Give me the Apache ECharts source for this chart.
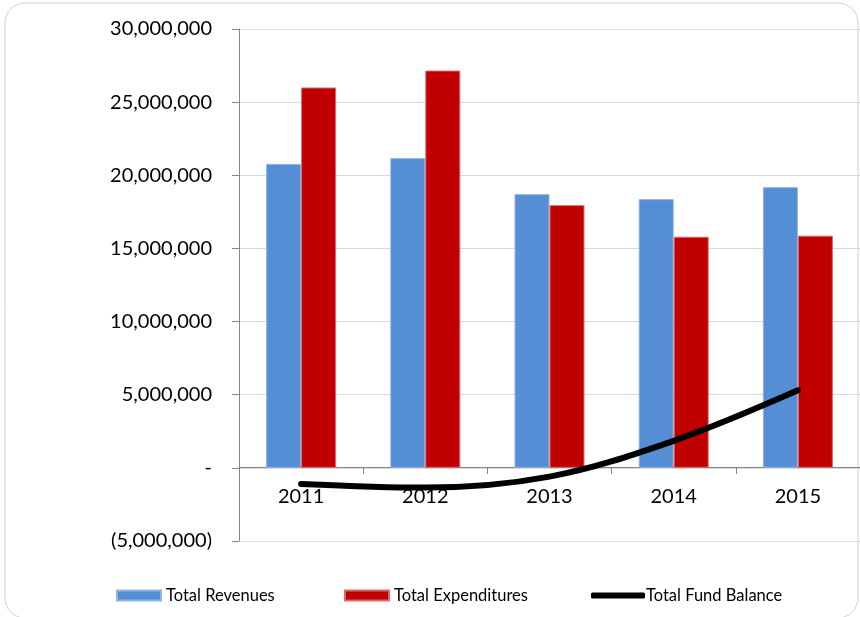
<!DOCTYPE html>
<html>
<head>
<meta charset="utf-8">
<script src="https://cdn.jsdelivr.net/npm/echarts@6/dist/echarts.min.js"></script>
<style>
* { margin: 0; padding: 0; }
html, body { width: 860px; height: 617px; background: #fff; overflow: hidden; }
#chart { width: 860px; height: 617px; }
</style>
</head>
<body>
<div id="chart"></div>
<script>
// data
const years = ["2011", "2012", "2013", "2014", "2015"];
const revenues = [20780000, 21170000, 18710000, 18370000, 19190000];
const expenditures = [26000000, 27160000, 17960000, 15800000, 15870000];
const fundBalance = [-1100000, -1350000, -600000, 1850000, 5300000];

const font = "Lato, 'Open Sans', sans-serif";

function fmtNum(v) {
  if (v === 0) return "-";
  let s = Math.abs(v).toString().replace(/\B(?=(\d{3})+(?!\d))/g, ",");
  return v < 0 ? "(" + s + ")" : s;
}

let chart = echarts.init(document.getElementById("chart"));
let legendText = { fontSize: 16.5, color: "#000", fontFamily: font };
let option = {
  animation: false,
  textStyle: { fontFamily: font },
  graphic: [
    {
      type: "rect",
      shape: { x: 5, y: 3, width: 853, height: 615, r: 20 },
      style: { fill: "none", stroke: "#d0d0d0", lineWidth: 1 },
      silent: true,
      z: -1
    }
  ],
  grid: { left: 239, top: 29, bottom: 76, right: -3 },
  legend: [
    {
      data: ["Total Revenues"],
      left: 116, top: 587, padding: 0,
      icon: "rect", itemWidth: 44, itemHeight: 10, itemGap: 0,
      textStyle: legendText
    },
    {
      data: ["Total Expenditures"],
      left: 344, top: 587, padding: 0,
      icon: "rect", itemWidth: 44, itemHeight: 10, itemGap: 0,
      textStyle: legendText
    },
    {
      data: ["Total Fund Balance"],
      left: 591, top: 587, padding: 0,
      icon: "roundRect", itemWidth: 54, itemHeight: 6, itemGap: 0,
      textStyle: { fontSize: 16.5, color: "#000", fontFamily: font, padding: [0, 0, 0, -4] }
    }
  ],
  xAxis: {
    type: "category",
    data: years,
    offset: -74,
    axisLine: { show: true, onZero: false, lineStyle: { color: "#868686", width: 1 } },
    axisTick: { show: true, length: 7, lineStyle: { color: "#868686" } },
    axisLabel: { fontSize: 20, color: "#000", margin: 20, fontFamily: font },
    splitLine: { show: false }
  },
  yAxis: {
    type: "value",
    min: -5000000,
    max: 30000000,
    interval: 5000000,
    axisLine: { show: true, lineStyle: { color: "#868686", width: 1 } },
    axisTick: { show: true, length: 7, lineStyle: { color: "#868686" } },
    axisLabel: { fontSize: 20, color: "#000", margin: 27, fontFamily: font, formatter: fmtNum },
    splitLine: { show: true, lineStyle: { color: "#d9d9d9", width: 1 } }
  },
  series: [
    {
      name: "Total Revenues",
      type: "bar",
      data: revenues,
      barWidth: 35,
      barGap: "0%",
      itemStyle: { color: "#558ED5", borderColor: "#8fb3e3", borderWidth: 1 }
    },
    {
      name: "Total Expenditures",
      type: "bar",
      data: expenditures,
      barWidth: 35,
      itemStyle: { color: "#C00000", borderColor: "#d96a6a", borderWidth: 1 }
    },
    {
      name: "Total Fund Balance",
      type: "line",
      data: fundBalance,
      smooth: 0.35,
      showSymbol: false,
      symbol: "none",
      lineStyle: { color: "#000", width: 6, cap: "round" },
      itemStyle: { color: "#000" },
      z: 5
    }
  ]
};
chart.setOption(option);
</script>
</body>
</html>
